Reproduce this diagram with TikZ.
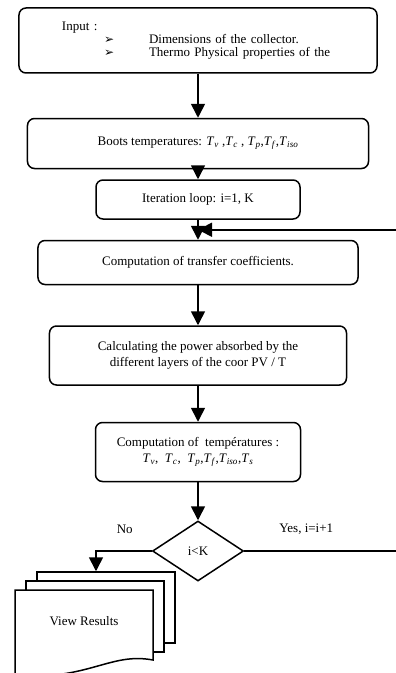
\documentclass[tikz,border=0pt]{standalone}
\usepackage{fontspec}
\setmainfont{Liberation Serif}
\newfontfamily\symfont{DejaVu Sans}
\usetikzlibrary{arrows.meta, positioning, calc, shapes.geometric}
\newcommand{\tsub}[1]{\textit{T}\textsubscript{\textit{#1}}}
\newcommand{\bul}{\makebox[45bp][l]{\symfont\fontsize{12bp}{12bp}\selectfont ➢}}

\begin{document}
\begin{tikzpicture}[x=1bp, y=-1bp,
box/.style={rectangle, draw, rounded corners=7bp, line width=1.5bp, align=center, font=\fontsize{13bp}{16bp}\selectfont},
arrow/.style={-{Triangle[width=14bp,length=14bp]}, line width=1.6bp},
sheet/.style={draw, fill=white, line width=1.5bp},
lbl/.style={font=\fontsize{13bp}{16bp}\selectfont}
]
\useasboundingbox (0,0) rectangle (395,673);
\node[box, minimum width=358bp, minimum height=65bp, align=left, text width=272bp, inner xsep=43bp, font=\fontsize{13bp}{13bp}\selectfont] (input) at (198,40.5) {Input :\\ \hspace*{42bp}\bul Dimensions of the collector.\\ \hspace*{42bp}\bul Thermo Physical properties of the};
\node[box, below=44bp of input, minimum width=341bp, minimum height=50bp] (boot) {Boots temperatures: \tsub{v} ,\tsub{c} , \tsub{p},\tsub{f},\tsub{iso}};
\node[box, below=10bp of boot, minimum width=204bp, minimum height=39bp] (iter) {Iteration loop: i=1, K};
\node[box, below=20bp of iter, minimum width=320bp, minimum height=44bp] (coef) {Computation of transfer coefficients.};
\node[box, below=40bp of coef, minimum width=297bp, minimum height=59bp] (power) {Calculating the power absorbed by the\\different layers of the coor PV / T};
\node[box, below=36bp of power, minimum width=205bp, minimum height=59bp] (temp) {Computation of\ \ températures :\\\tsub{v},\ \ \tsub{c},\ \ \tsub{p},\tsub{f},\tsub{iso},\tsub{s}};
\node[diamond, draw, line width=1.5bp, below=38bp of temp, minimum width=91bp, minimum height=60bp, inner sep=0pt, aspect=1.5, lbl] (test) {i<K};

\draw[arrow] (input) -- (boot);
\draw[arrow] (boot) -- (iter);
\draw[arrow] (iter) -- (coef);
\draw[arrow] (coef) -- (power);
\draw[arrow] (power) -- (temp);
\draw[arrow] (temp) -- (test);

% loop back
\coordinate (join) at ($(iter.south)!0.5!(coef.north)$);
\coordinate (rgt) at (397,0);
\draw[arrow] (test.east) -- (test.east -| rgt) |- (join);

% results stack
\node[sheet, minimum width=138bp, minimum height=71bp] (back) at (106,607.5) {};
\node[sheet, minimum width=138bp, minimum height=71bp] (mid) at (95,616.5) {};
\draw[sheet] (15,590) -- (153,590) -- (153,660) .. controls (110,652) and (90,680) .. (15,676) -- cycle;
\node[lbl] (res) at (84,621) {View Results};
\coordinate (restop) at ($(back.north)+(-10,0)$);
\draw[arrow] (test.west) -| (restop);

\node[lbl] (no) at ($(test.west)+(-27,-22)$) {No};
\node[lbl] (yes) at ($(test.east)+(62,-22)$) {Yes, i=i+1};
\end{tikzpicture}
\end{document}
